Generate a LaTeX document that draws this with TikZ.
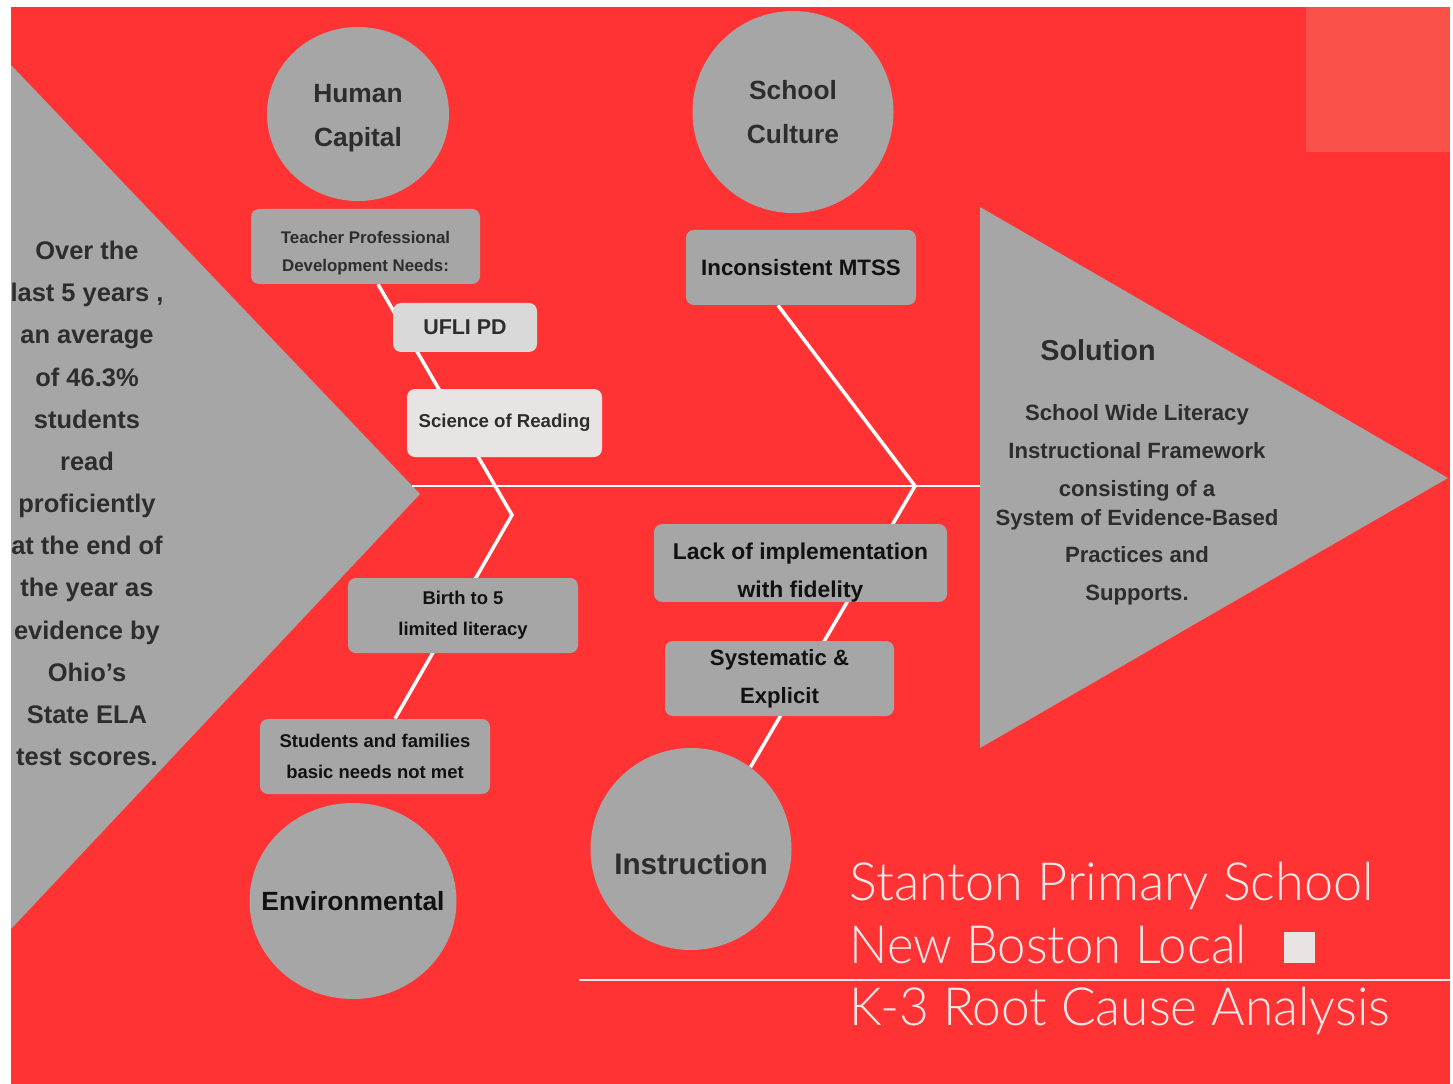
\documentclass[tikz,border=0pt]{standalone}
\usepackage{fontspec}
\setmainfont{Liberation Sans}
\newfontfamily\titlefont{Lato Light}
\usetikzlibrary{calc, positioning}
\usetikzlibrary{shapes.geometric}

\definecolor{bgred}{RGB}{255,51,51}
\definecolor{softred}{RGB}{250,80,74}
\definecolor{fishgray}{RGB}{166,166,166}
\definecolor{palegray}{RGB}{217,217,217}
\definecolor{paperwhite}{RGB}{232,228,228}
\definecolor{inkgray}{RGB}{45,45,45}
\definecolor{inkblack}{RGB}{17,17,17}
\definecolor{titlewhite}{RGB}{240,232,232}

\pgfdeclarelayer{back}
\pgfdeclarelayer{bones}
\pgfsetlayers{back,bones,main}

\tikzset{
  cause/.style={ellipse, fill=fishgray, inner sep=0pt, align=center, text=inkgray,
    font=\bfseries\fontsize{15}{25}\selectfont},
  factor/.style={rounded corners=1.6mm, fill=fishgray, inner sep=0pt, align=center,
    text=inkblack, minimum width=4.6cm, minimum height=1.5cm},
  bone/.style={white, line width=2pt, line join=miter},
  heading/.style={anchor=base west, inner sep=0pt, text=titlewhite,
    font=\titlefont\fontsize{30}{30}\selectfont},
}

\begin{document}
\begin{tikzpicture}[x=0.02cm, y=-0.02cm]
\def\W{1453}
\def\H{1084}
\def\u{0.02cm}

\coordinate (Ltop) at (11,65);
\coordinate (Ltip) at (420,494);
\coordinate (Lbot) at (11,929);
\coordinate (Rtop) at (980,207);
\coordinate (Rtip) at (1448,478);
\coordinate (Rbot) at (980,748);
\coordinate (Sa) at (412,486);
\coordinate (Sb) at (980,486);
\coordinate (HB) at (512,515);
\coordinate (MB) at (915,486);

\useasboundingbox (0,0) rectangle (\W,\H);

\node[align=center, text=inkgray, font=\bfseries\fontsize{14.5}{24}\selectfont] (stat) at (87,503.5)
  {Over the\\last 5 years ,\\an average\\of 46.3\%\\students\\read\\proficiently\\at the end of\\the year as\\evidence by\\Ohio’s\\State ELA\\test scores.};

\node[font=\bfseries\fontsize{16.4}{20}\selectfont, text=inkgray] (soltitle) at (1098,350) {Solution};
\node[align=center, font=\bfseries\fontsize{12.6}{21.5}\selectfont, text=inkgray] (soltext) at (1137,505)
  {School Wide Literacy\\Instructional Framework\\consisting of a\\[-5pt]System of Evidence-Based\\Practices and\\Supports.};

\node[cause, minimum width=182*\u, minimum height=174*\u] (hc) at (358,114) {\rule{0pt}{15pt}Human\\Capital};
\node[cause, minimum width=201*\u, minimum height=202*\u] (sc) at (793,112) {School\\Culture};
\node[cause, minimum width=201*\u, minimum height=202*\u,
  label={[yshift=-0.3cm, text=inkgray, font=\bfseries\fontsize{16.9}{20}\selectfont]center:Instruction}] (ins) at (691,849) {};
\node[cause, minimum width=207*\u, minimum height=196*\u,
  label={[text=inkblack, font=\bfseries\fontsize{15}{20}\selectfont]center:Environmental}] (env) at (353,901) {};

\node[factor, minimum width=229*\u, minimum height=75*\u, text=inkgray,
  font=\bfseries\fontsize{9.6}{15.9}\selectfont] (tpd) at (365.5,246.5) {\rule{0pt}{15pt}Teacher Professional\\Development Needs:};
\node[factor, fill=palegray, minimum width=144*\u, minimum height=49*\u, text=inkgray,
  font=\bfseries\fontsize{12.2}{14}\selectfont] (ufli) at (465,327.5) {UFLI PD};
\node[factor, fill=paperwhite, minimum width=195*\u, minimum height=68*\u, text=inkgray,
  font=\bfseries\fontsize{10.6}{13}\selectfont] (sor) at (504.5,423) {Science of Reading};
\node[factor, minimum width=230*\u, minimum height=75*\u,
  font=\bfseries\fontsize{12.7}{15}\selectfont] (mtss) at (801,267.5) {Inconsistent MTSS};
\node[factor, minimum width=293*\u, minimum height=76*\u,
  font=\bfseries\fontsize{13}{21.5}\selectfont] (lack) at (800.5,563) {\rule{0pt}{20pt}Lack of implementation\\with fidelity};
\node[factor, minimum width=229*\u, minimum height=75*\u,
  font=\bfseries\fontsize{12.6}{21.5}\selectfont] (sys) at (779.5,678.5) {Systematic \&\\Explicit};
\node[factor, minimum width=230*\u, minimum height=75*\u,
  font=\bfseries\fontsize{10.5}{17.6}\selectfont] (birth) at (463,615.5) {Birth to 5\\limited literacy};
\node[factor, minimum width=230*\u, minimum height=75*\u,
  font=\bfseries\fontsize{10.5}{17.6}\selectfont] (stud) at (375,756.5) {Students and families\\basic needs not met};

\node[heading] (name) at (849,900) {\scalebox{0.99}[1]{Stanton Primary School}};
\node[heading] (district) at (849,963) {\scalebox{0.965}[1]{New Boston Local}};
\node[heading] (topic) at (849,1025) {\scalebox{0.975}[1]{K-3 Root Cause Analysis}};
\fill[paperwhite] (1284,932) rectangle (1315,963);
\draw[titlewhite, line width=1pt] (579,980) -- (1450,980);

\begin{pgfonlayer}{back}
\fill[white] (0,0) rectangle (\W,\H);
\fill[bgred] (11,7) rectangle (1450,\H);
\fill[softred] (1306,7) rectangle (1450,152);
\fill[fishgray] (Ltop) -- (Ltip) -- (Lbot) -- cycle;
\fill[fishgray] (Rtop) -- (Rtip) -- (Rbot) -- cycle;
\end{pgfonlayer}

\begin{pgfonlayer}{bones}
\draw[bone, line width=1.4pt] (Sa) -- (Sb);
\draw[bone] ($(tpd.south)+(12.5,0)$) -- (HB) -- ($(stud.north)+(20,0)$);
\draw[bone] ($(mtss.south)+(-23,0)$) -- (MB) -- (ins.54);
\end{pgfonlayer}
\end{tikzpicture}
\end{document}
